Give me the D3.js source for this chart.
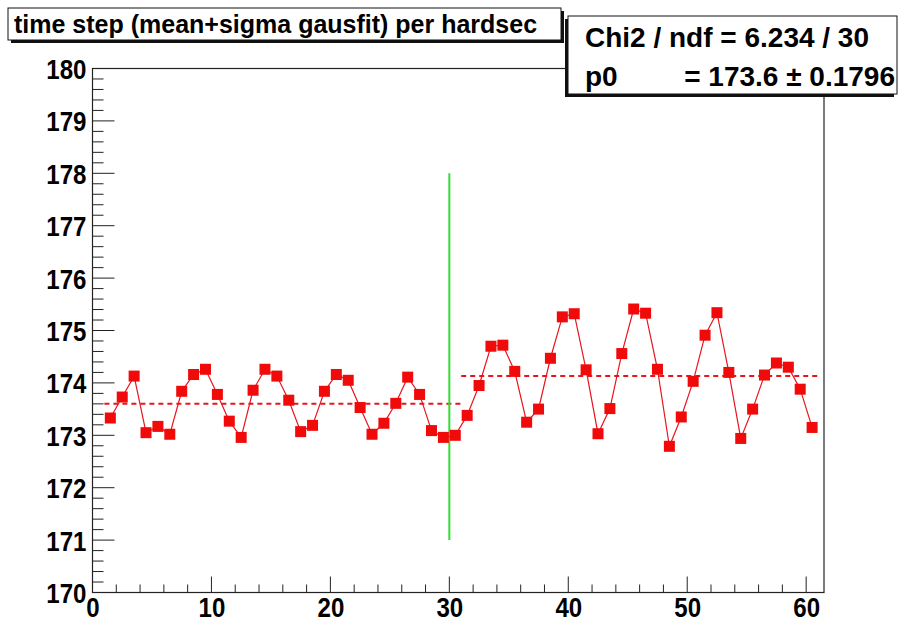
<!DOCTYPE html>
<html>
<head>
<meta charset="utf-8">
<script src="https://cdn.jsdelivr.net/npm/d3@7"></script>
<style>
  html, body { margin: 0; padding: 0; background: #fff; }
  svg { display: block; }
  text { font-family: "Liberation Sans", Arial, Helvetica, sans-serif; font-weight: bold; fill: #000; }
</style>
</head>
<body>
<svg id="chart" width="899" height="624"></svg>
<script>
// Time step per hard second (bin centres) and the measured mean+sigma values
const hardsec = [1.5, 2.5, 3.5, 4.5, 5.5, 6.5, 7.5, 8.5, 9.5, 10.5,
                 11.5, 12.5, 13.5, 14.5, 15.5, 16.5, 17.5, 18.5, 19.5, 20.5,
                 21.5, 22.5, 23.5, 24.5, 25.5, 26.5, 27.5, 28.5, 29.5, 30.5,
                 31.5, 32.5, 33.5, 34.5, 35.5, 36.5, 37.5, 38.5, 39.5, 40.5,
                 41.5, 42.5, 43.5, 44.5, 45.5, 46.5, 47.5, 48.5, 49.5, 50.5,
                 51.5, 52.5, 53.5, 54.5, 55.5, 56.5, 57.5, 58.5, 59.5, 60.5];
const timeStep = [173.33, 173.73, 174.13, 173.05, 173.17, 173.02, 173.84, 174.16, 174.26, 173.78,
                  173.27, 172.96, 173.86, 174.26, 174.13, 173.67, 173.07, 173.19, 173.84, 174.16,
                  174.05, 173.53, 173.02, 173.23, 173.61, 174.11, 173.78, 173.09, 172.96, 173.00,
                  173.38, 173.95, 174.70, 174.72, 174.22, 173.25, 173.50, 174.47, 175.26, 175.32,
                  174.25, 173.03, 173.51, 174.56, 175.41, 175.33, 174.26, 172.79, 173.35, 174.03,
                  174.91, 175.34, 174.20, 172.94, 173.50, 174.15, 174.38, 174.30, 173.88, 173.15];

// Constant (p0) fits over the two halves
const fitRanges = [[1, 31], [31, 61]];
const fitValues = [173.6, 174.13];

// Vertical marker at hardsec 30
const markerX = 30;
const markerRange = [171, 178];

const xTicks = [0, 10, 20, 30, 40, 50, 60];
const yTicks = [170, 171, 172, 173, 174, 175, 176, 177, 178, 179, 180];

const titleText = "time step (mean+sigma gausfit) per hardsec";
const statsLine1 = "Chi2 / ndf = 6.234 / 30";
const statsName2 = "p0";
const statsValue2 = "= 173.6 \u00b1 0.1796";

const svg = d3.select("#chart");
const W = 899, H = 624;
const frame = { left: 92.5, right: 824, top: 68.5, bottom: 592.5 };

const x = d3.scaleLinear().domain([0, 61.5]).range([frame.left, frame.right]);
const y = d3.scaleLinear().domain([170, 180]).range([frame.bottom, frame.top]);

svg.append("rect").attr("width", W).attr("height", H).attr("fill", "#fff");

// Frame
svg.append("rect")
  .attr("x", frame.left).attr("y", frame.top)
  .attr("width", frame.right - frame.left).attr("height", frame.bottom - frame.top)
  .attr("fill", "none").attr("stroke", "#222").attr("stroke-width", 1.2);

// Y axis: major ticks every 1, minor every 0.2, drawn inward
const yMajLen = 22, yMinLen = 11;
const yMinor = d3.range(170, 180.001, 0.2).map(v => +v.toFixed(1));
svg.append("g").selectAll("line").data(yMinor).join("line")
  .attr("x1", frame.left).attr("x2", d => frame.left + (Math.abs(d - Math.round(d)) < 1e-6 ? yMajLen : yMinLen))
  .attr("y1", d => y(d)).attr("y2", d => y(d))
  .attr("stroke", "#222").attr("stroke-width", 1);

// Axis labels use a narrow bold face (Helvetica-condensed look)
const labelScale = "scale(0.86,1)";

const yAxis = d3.axisLeft(y).tickValues(yTicks).tickSize(0).tickPadding(7).tickFormat(d3.format("d"));
const gy = svg.append("g").attr("transform", `translate(${frame.left},0)`).call(yAxis);
gy.select(".domain").remove();
gy.selectAll("text")
  .style("font-size", "28px").style("font-family", "'Liberation Sans', Arial, sans-serif")
  .style("font-weight", "bold").attr("fill", "#000").attr("dy", "0.36em")
  .attr("transform", labelScale);

// X axis: major every 10, minor every 2, drawn inward
const xMajLen = 16, xMinLen = 8;
const xMinor = d3.range(0, 61, 2);
svg.append("g").selectAll("line").data(xMinor).join("line")
  .attr("x1", d => x(d)).attr("x2", d => x(d))
  .attr("y1", frame.bottom).attr("y2", d => frame.bottom - (d % 10 === 0 ? xMajLen : xMinLen))
  .attr("stroke", "#222").attr("stroke-width", 1);

const xAxis = d3.axisBottom(x).tickValues(xTicks).tickSize(0).tickPadding(5).tickFormat(d3.format("d"));
const gx = svg.append("g").attr("transform", `translate(0,${frame.bottom})`).call(xAxis);
gx.select(".domain").remove();
gx.selectAll("text")
  .style("font-size", "28px").style("font-family", "'Liberation Sans', Arial, sans-serif")
  .style("font-weight", "bold").attr("fill", "#000")
  .attr("transform", labelScale);

// Fit lines (dotted)
svg.append("g").selectAll("line").data(fitRanges).join("line")
  .attr("x1", d => x(d[0])).attr("x2", d => x(d[1]))
  .attr("y1", (d, i) => y(fitValues[i])).attr("y2", (d, i) => y(fitValues[i]))
  .attr("stroke", "#e8141e").attr("stroke-width", 2).attr("stroke-dasharray", "5,4");

// Vertical marker
svg.append("line")
  .attr("x1", x(markerX)).attr("x2", x(markerX))
  .attr("y1", y(markerRange[0])).attr("y2", y(markerRange[1]))
  .attr("stroke", "#33dd33").attr("stroke-width", 2);

// Data line and square markers
const pts = hardsec.map((h, i) => [h, timeStep[i]]);
svg.append("path")
  .attr("d", d3.line().x(d => x(d[0])).y(d => y(d[1]))(pts))
  .attr("fill", "none").attr("stroke", "#e8141e").attr("stroke-width", 1.2);

const ms = 11;
svg.append("g").selectAll("rect").data(pts).join("rect")
  .attr("x", d => x(d[0]) - ms / 2).attr("y", d => y(d[1]) - ms / 2)
  .attr("width", ms).attr("height", ms)
  .attr("fill", "#f00a0a");

// Title box with shadow
const tb = { x: 8, y: 8, w: 553, h: 32 };
svg.append("rect").attr("x", tb.x + 3).attr("y", tb.y + 3).attr("width", tb.w).attr("height", tb.h).attr("fill", "#111");
svg.append("rect").attr("x", tb.x).attr("y", tb.y).attr("width", tb.w).attr("height", tb.h)
  .attr("fill", "#fff").attr("stroke", "#111").attr("stroke-width", 1);
svg.append("text").attr("x", tb.x + 6).attr("y", tb.y + 25)
  .style("font-size", "25px").text(titleText);

// Stats box with shadow
const sb = { x: 568, y: 16, w: 329, h: 78 };
svg.append("rect").attr("x", sb.x - 3).attr("y", sb.y + 3).attr("width", sb.w).attr("height", sb.h).attr("fill", "#111");
svg.append("rect").attr("x", sb.x).attr("y", sb.y).attr("width", sb.w).attr("height", sb.h)
  .attr("fill", "#fff").attr("stroke", "#111").attr("stroke-width", 1);
svg.append("text").attr("x", sb.x + 17).attr("y", sb.y + 31)
  .style("font-size", "28px").text(statsLine1);
svg.append("text").attr("x", sb.x + 17).attr("y", sb.y + 70)
  .style("font-size", "28px").text(statsName2);
svg.append("text").attr("x", sb.x + sb.w - 2).attr("y", sb.y + 70).attr("text-anchor", "end")
  .style("font-size", "28px").text(statsValue2);
</script>
</body>
</html>
